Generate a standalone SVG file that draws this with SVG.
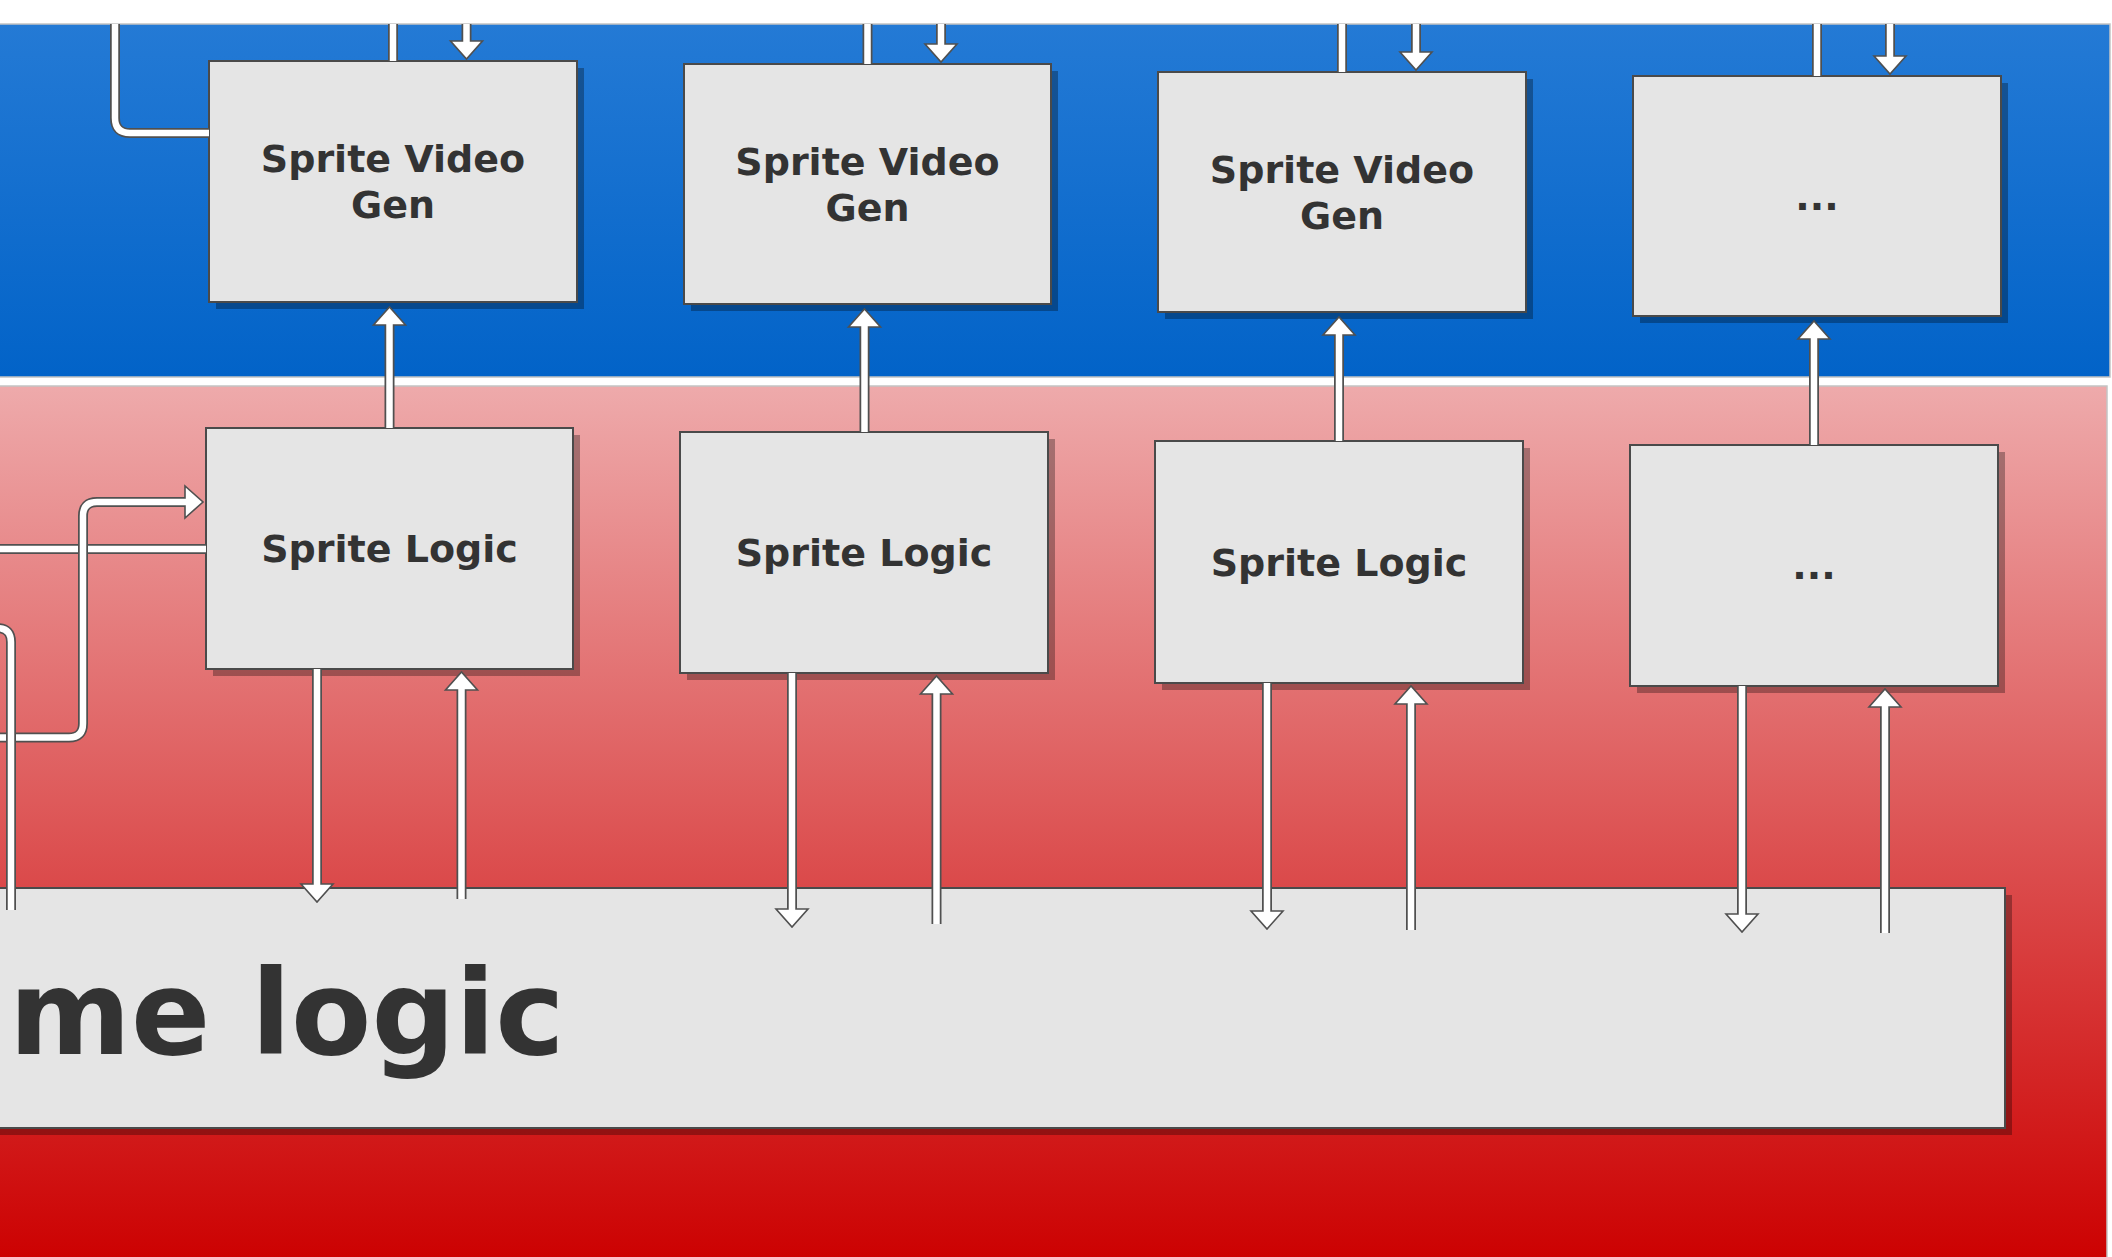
<svg xmlns="http://www.w3.org/2000/svg" xmlns:xlink="http://www.w3.org/1999/xlink" width="2112" height="1257" viewBox="0 0 2112 1257">
  <defs>
    <linearGradient id="gBlue" x1="0" y1="0" x2="0" y2="1">
      <stop offset="0" stop-color="#247AD5"/>
      <stop offset="1" stop-color="#0263C8"/>
    </linearGradient>
    <linearGradient id="gRed" x1="0" y1="0" x2="0" y2="1">
      <stop offset="0" stop-color="#EEAAAB"/>
      <stop offset="1" stop-color="#CC0000"/>
    </linearGradient>
    <path id="ah" d="M-16,-18 L16,-18 L0,0 Z"/>
    <style>
      .panel { stroke: #c4c4c4; stroke-width: 1.5; }
      .box { fill: #E5E5E5; stroke: #4a4a4a; stroke-width: 2; }
      .shadow { fill: #000; fill-opacity: 0.3; }
      .lbl { font-family: "DejaVu Sans", "Liberation Sans", sans-serif; font-weight: bold; font-size: 38px; fill: #333333; text-anchor: middle; }
      .big { font-family: "DejaVu Sans", "Liberation Sans", sans-serif; font-weight: bold; font-size: 117px; fill: #333333; }
      .co { fill: none; stroke: #505050; stroke-width: 10; stroke-linecap: butt; stroke-linejoin: round; }
      .ci { fill: none; stroke: #ffffff; stroke-width: 6.5; stroke-linecap: butt; stroke-linejoin: round; }
      .head { fill: #ffffff; stroke: #505050; stroke-width: 1.6; stroke-linejoin: miter; }
    </style>
  </defs>

  <rect x="0" y="0" width="2112" height="1257" fill="#ffffff"/>
  <rect class="panel" x="-10" y="24" width="2120" height="353" fill="url(#gBlue)"/>
  <rect class="panel" x="-10" y="386" width="2117" height="880" fill="url(#gRed)"/>

  <g id="game-logic">
    <rect class="shadow" x="-13" y="895" width="2025" height="240"/>
    <rect class="box" x="-20" y="888" width="2025" height="240"/>
    <text class="big" x="-166" y="1054">Game logic</text>
  </g>

  <g id="sprite-video-gen-1">
    <rect class="shadow" x="216" y="68" width="368" height="241"/>
    <rect class="box" x="209" y="61" width="368" height="241"/>
    <text class="lbl" x="393" y="172">Sprite Video</text>
    <text class="lbl" x="393" y="218">Gen</text>
  </g>
  <g id="sprite-video-gen-2">
    <rect class="shadow" x="691" y="71" width="367" height="240"/>
    <rect class="box" x="684" y="64" width="367" height="240"/>
    <text class="lbl" x="867.5" y="174.5">Sprite Video</text>
    <text class="lbl" x="867.5" y="220.5">Gen</text>
  </g>
  <g id="sprite-video-gen-3">
    <rect class="shadow" x="1165" y="79" width="368" height="240"/>
    <rect class="box" x="1158" y="72" width="368" height="240"/>
    <text class="lbl" x="1342" y="182.5">Sprite Video</text>
    <text class="lbl" x="1342" y="228.5">Gen</text>
  </g>
  <g id="sprite-video-gen-more">
    <rect class="shadow" x="1640" y="83" width="368" height="240"/>
    <rect class="box" x="1633" y="76" width="368" height="240"/>
    <text class="lbl" x="1817" y="209.5">...</text>
  </g>

  <g id="sprite-logic-1">
    <rect class="shadow" x="213" y="435" width="367" height="241"/>
    <rect class="box" x="206" y="428" width="367" height="241"/>
    <text class="lbl" x="389.5" y="562">Sprite Logic</text>
  </g>
  <g id="sprite-logic-2">
    <rect class="shadow" x="687" y="439" width="368" height="241"/>
    <rect class="box" x="680" y="432" width="368" height="241"/>
    <text class="lbl" x="864" y="566">Sprite Logic</text>
  </g>
  <g id="sprite-logic-3">
    <rect class="shadow" x="1162" y="448" width="368" height="242"/>
    <rect class="box" x="1155" y="441" width="368" height="242"/>
    <text class="lbl" x="1339" y="575.5">Sprite Logic</text>
  </g>
  <g id="sprite-logic-more">
    <rect class="shadow" x="1637" y="452" width="368" height="241"/>
    <rect class="box" x="1630" y="445" width="368" height="241"/>
    <text class="lbl" x="1814" y="579">...</text>
  </g>

  <g id="connectors">
    <!-- top-left feed into Sprite Video Gen 1 -->
    <path class="co" d="M115,24 V118 Q115,133 130,133 H209"/>
    <path class="ci" d="M115,24 V118 Q115,133 130,133 H209"/>

    <!-- outgoing lines from video gens (up) -->
    <path class="co" d="M393,24 V61"/><path class="ci" d="M393,24 V61"/>
    <path class="co" d="M867.5,24 V64"/><path class="ci" d="M867.5,24 V64"/>
    <path class="co" d="M1342,24 V72"/><path class="ci" d="M1342,24 V72"/>
    <path class="co" d="M1817,24 V76"/><path class="ci" d="M1817,24 V76"/>

    <!-- incoming arrows into video gens (down) -->
    <path class="co" d="M466.5,24 V41"/><use href="#ah" class="head" transform="translate(466.5,59)"/><path class="ci" d="M466.5,24 V43"/>
    <path class="co" d="M941,24 V44"/><use href="#ah" class="head" transform="translate(941,62)"/><path class="ci" d="M941,24 V46"/>
    <path class="co" d="M1416,24 V52"/><use href="#ah" class="head" transform="translate(1416,70)"/><path class="ci" d="M1416,24 V54"/>
    <path class="co" d="M1890,24 V56"/><use href="#ah" class="head" transform="translate(1890,74)"/><path class="ci" d="M1890,24 V58"/>

    <!-- sprite logic -> video gen (up) -->
    <path class="co" d="M389.5,428 V325"/><use href="#ah" class="head" transform="translate(389.5,307) rotate(180)"/><path class="ci" d="M389.5,428 V323"/>
    <path class="co" d="M864.5,432 V327"/><use href="#ah" class="head" transform="translate(864.5,309) rotate(180)"/><path class="ci" d="M864.5,432 V325"/>
    <path class="co" d="M1339,441 V335"/><use href="#ah" class="head" transform="translate(1339,317) rotate(180)"/><path class="ci" d="M1339,441 V333"/>
    <path class="co" d="M1814,445 V339"/><use href="#ah" class="head" transform="translate(1814,321) rotate(180)"/><path class="ci" d="M1814,445 V337"/>

    <!-- left side lines -->
    <path class="co" d="M-10,549 H206"/><path class="ci" d="M-10,549 H206"/>
    <path class="co" d="M-10,737.5 H69 Q83,737.5 83,723.5 V516 Q83,502 97,502 H185"/>
    <use href="#ah" class="head" transform="translate(203,502) rotate(-90)"/>
    <path class="ci" d="M-10,737.5 H69 Q83,737.5 83,723.5 V516 Q83,502 97,502 H187"/>
    <path class="co" d="M-10,628 H-3 Q11,628 11,642 V910"/><path class="ci" d="M-10,628 H-3 Q11,628 11,642 V910"/>

    <!-- sprite logic -> game logic (down) -->
    <path class="co" d="M317,669 V884"/><use href="#ah" class="head" transform="translate(317,902)"/><path class="ci" d="M317,669 V886"/>
    <path class="co" d="M792,673 V909"/><use href="#ah" class="head" transform="translate(792,927)"/><path class="ci" d="M792,673 V911"/>
    <path class="co" d="M1267,683 V911"/><use href="#ah" class="head" transform="translate(1267,929)"/><path class="ci" d="M1267,683 V913"/>
    <path class="co" d="M1742,686 V914"/><use href="#ah" class="head" transform="translate(1742,932)"/><path class="ci" d="M1742,686 V916"/>

    <!-- game logic -> sprite logic (up) -->
    <path class="co" d="M461.5,899 V690"/><use href="#ah" class="head" transform="translate(461.5,672) rotate(180)"/><path class="ci" d="M461.5,899 V688"/>
    <path class="co" d="M936.5,924 V694"/><use href="#ah" class="head" transform="translate(936.5,676) rotate(180)"/><path class="ci" d="M936.5,924 V692"/>
    <path class="co" d="M1411,930 V704"/><use href="#ah" class="head" transform="translate(1411,686) rotate(180)"/><path class="ci" d="M1411,930 V702"/>
    <path class="co" d="M1885,933 V707"/><use href="#ah" class="head" transform="translate(1885,689) rotate(180)"/><path class="ci" d="M1885,933 V705"/>
  </g>
</svg>
